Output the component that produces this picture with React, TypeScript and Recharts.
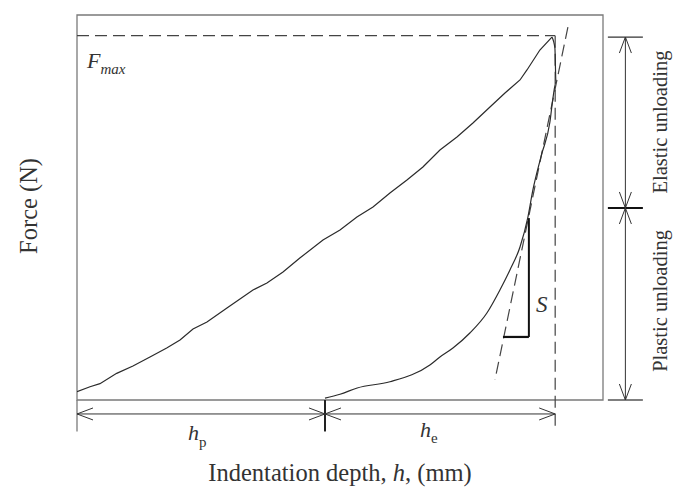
import React from 'react';
import { ComposedChart, Line, XAxis, YAxis, ReferenceLine, ReferenceArea, ReferenceDot } from 'recharts';

// ---- data (depth h in mm, force F in N, arbitrary units as in the schematic) ----
const loadingH = [0, 0.136, 0.24, 0.415, 0.585, 0.763, 0.938, 1.077, 1.213, 1.359, 1.568, 1.84, 1.986, 2.154, 2.33, 2.572, 2.75, 2.927, 3.095, 3.272, 3.45, 3.617, 3.795, 3.973, 4.14, 4.318, 4.475, 4.632, 4.705, 4.84, 4.966];
const loadingF = [0.086, 0.138, 0.17, 0.277, 0.353, 0.447, 0.54, 0.623, 0.738, 0.81, 0.956, 1.143, 1.216, 1.33, 1.475, 1.662, 1.766, 1.901, 2.005, 2.151, 2.286, 2.421, 2.597, 2.732, 2.878, 3.044, 3.19, 3.325, 3.429, 3.636, 3.771];
const unloadingH = [4.966, 4.997, 5.008, 4.977, 4.945, 4.856, 4.767, 4.715, 4.632, 4.527, 4.422, 4.286, 4.108, 3.931, 3.795, 3.69, 3.272, 2.93, 2.75, 2.593];
const unloadingF = [3.771, 3.657, 3.304, 3.138, 2.888, 2.545, 2.182, 1.901, 1.59, 1.351, 1.143, 0.904, 0.696, 0.54, 0.447, 0.364, 0.19, 0.125, 0.06, 0.02];
const tangentH = [5.133, 4.37];
const tangentF = [3.875, 0.208];
const xTicks = [0, 1, 2, 3, 4, 5];
const yTicks = [0, 1, 2, 3];
const hMax = 5.0;
const fMax = 3.785;
const hP = 2.593;
const elasticSplit = 1.995;
const slopeRun = [4.454, 4.725];
const slopeRise = [0.655, 1.89];

// annotation anchors (data space)
const dimY = -0.145;
const extBottom = -0.327;
const sideX = 5.734;
const sideTick = [5.551, 5.917];

const loadingData = loadingH.map((h, i) => ({ h, f: loadingF[i] }));
const unloadingData = unloadingH.map((h, i) => ({ h, f: unloadingF[i] }));
const tangentData = tangentH.map((h, i) => ({ h, f: tangentF[i] }));

const INK = '#2b2b2b';
const FRAME = '#7a7a7a';
const FONT = '"Liberation Serif", "Times New Roman", serif';

const arrowShape = (color: string, width: number) => (p: any) => {
  const { x1, y1, x2, y2 } = p;
  const L = 16;
  const W = 6;
  const head = (tx: number, ty: number, ox: number, oy: number, k: string) => {
    const dx = ox - tx;
    const dy = oy - ty;
    const len = Math.sqrt(dx * dx + dy * dy) || 1;
    const ux = dx / len;
    const uy = dy / len;
    const bx = tx + ux * L;
    const by = ty + uy * L;
    return (
      <g key={k}>
        <line x1={tx} y1={ty} x2={bx - uy * W} y2={by + ux * W} stroke={color} strokeWidth={1} />
        <line x1={tx} y1={ty} x2={bx + uy * W} y2={by - ux * W} stroke={color} strokeWidth={1} />
      </g>
    );
  };
  return (
    <g>
      <line x1={x1} y1={y1} x2={x2} y2={y2} stroke={color} strokeWidth={width} />
      {head(x1, y1, x2, y2, 'a')}
      {head(x2, y2, x1, y1, 'b')}
    </g>
  );
};

const textShape = (node: (cx: number, cy: number) => React.ReactElement) => (p: any) => node(p.cx, p.cy);

export default function App() {
  return (
    <div style={{ position: 'absolute', left: 0, top: 0, width: 680, height: 487, background: '#fff' }}>
      <ComposedChart
        width={680}
        height={487}
        margin={{ top: 15, right: 77, bottom: 87, left: 77 }}
        style={{ fontFamily: FONT }}
      >
        <XAxis
          type="number"
          dataKey="h"
          domain={[0, 5.5]}
          ticks={xTicks}
          tick={false}
          tickSize={5}
          height={0}
          axisLine={{ stroke: FRAME, strokeWidth: 1.3 }}
          tickLine={{ stroke: FRAME, strokeWidth: 1.3 }}
          allowDataOverflow
        />
        <YAxis
          type="number"
          dataKey="f"
          domain={[0, 4]}
          ticks={yTicks}
          tick={false}
          tickSize={5}
          width={0}
          axisLine={{ stroke: FRAME, strokeWidth: 1.3 }}
          tickLine={{ stroke: FRAME, strokeWidth: 1.3 }}
          allowDataOverflow
        />
        <ReferenceArea x1={0} x2={5.5} y1={0} y2={4} fill="none" stroke={FRAME} strokeWidth={1.3} ifOverflow="visible" />

        {/* Fmax and hmax guides */}
        <ReferenceLine segment={[{ x: 0, y: fMax }, { x: hMax, y: fMax }]} stroke="#444" strokeWidth={1.2} strokeDasharray="12 6" ifOverflow="visible" />
        <ReferenceLine segment={[{ x: hMax, y: fMax }, { x: hMax, y: extBottom }]} stroke="#444" strokeWidth={1.2} strokeDasharray="12 6" ifOverflow="visible" />

        {/* tangent (stiffness S) */}
        <Line data={tangentData} dataKey="f" type="linear" stroke="#444" strokeWidth={1.2} strokeDasharray="12 6" dot={false} isAnimationActive={false} />

        <Line data={loadingData} dataKey="f" type="linear" stroke={INK} strokeWidth={1.2} dot={false} isAnimationActive={false} />
        <Line data={unloadingData} dataKey="f" type="monotone" stroke={INK} strokeWidth={1.2} dot={false} isAnimationActive={false} />

        {/* slope triangle */}
        <ReferenceLine segment={[{ x: slopeRun[1], y: slopeRise[0] }, { x: slopeRun[1], y: slopeRise[1] }]} stroke="#111" strokeWidth={2} ifOverflow="visible" />
        <ReferenceLine segment={[{ x: slopeRun[0], y: slopeRise[0] }, { x: slopeRun[1], y: slopeRise[0] }]} stroke="#111" strokeWidth={2.2} ifOverflow="visible" />

        {/* bottom extension lines */}
        <ReferenceLine segment={[{ x: 0, y: 0 }, { x: 0, y: extBottom }]} stroke={FRAME} strokeWidth={1.3} ifOverflow="visible" />
        <ReferenceLine segment={[{ x: hP, y: 0 }, { x: hP, y: extBottom }]} stroke="#222" strokeWidth={2} ifOverflow="visible" />

        {/* bottom dimension arrows */}
        <ReferenceLine segment={[{ x: 0, y: dimY }, { x: hP, y: dimY }]} ifOverflow="visible" shape={arrowShape('#333', 1)} />
        <ReferenceLine segment={[{ x: hP, y: dimY }, { x: hMax, y: dimY }]} ifOverflow="visible" shape={arrowShape('#333', 1)} />

        {/* right side dimension */}
        <ReferenceLine segment={[{ x: sideTick[0], y: fMax - 0.014 }, { x: sideTick[1], y: fMax - 0.014 }]} stroke="#333" strokeWidth={1.3} ifOverflow="visible" />
        <ReferenceLine segment={[{ x: sideTick[0], y: elasticSplit }, { x: sideTick[1], y: elasticSplit }]} stroke="#111" strokeWidth={2} ifOverflow="visible" />
        <ReferenceLine segment={[{ x: sideTick[0], y: 0 }, { x: sideTick[1], y: 0 }]} stroke="#555" strokeWidth={1.3} ifOverflow="visible" />
        <ReferenceLine segment={[{ x: sideX, y: fMax - 0.014 }, { x: sideX, y: elasticSplit }]} ifOverflow="visible" shape={arrowShape('#333', 1)} />
        <ReferenceLine segment={[{ x: sideX, y: elasticSplit }, { x: sideX, y: 0 }]} ifOverflow="visible" shape={arrowShape('#333', 1)} />

        {/* labels */}
        <ReferenceDot x={0.105} y={3.45} r={0} ifOverflow="visible" shape={textShape((cx, cy) => (
          <text x={cx} y={cy} fill="#333" fontFamily={FONT} fontStyle="italic" fontSize={22}>
            F<tspan fontSize={15} dy={6}>max</tspan>
          </text>
        ))} />
        <ReferenceDot x={4.799} y={0.914} r={0} ifOverflow="visible" shape={textShape((cx, cy) => (
          <text x={cx} y={cy} fill="#333" fontFamily={FONT} fontStyle="italic" fontSize={23}>S</text>
        ))} />
        <ReferenceDot x={1.16} y={-0.416} r={0} ifOverflow="visible" shape={textShape((cx, cy) => (
          <text x={cx} y={cy} fill="#333" fontFamily={FONT} fontSize={22}>
            <tspan fontStyle="italic">h</tspan><tspan fontSize={15} dy={7}>p</tspan>
          </text>
        ))} />
        <ReferenceDot x={3.586} y={-0.384} r={0} ifOverflow="visible" shape={textShape((cx, cy) => (
          <text x={cx} y={cy} fill="#333" fontFamily={FONT} fontSize={22}>
            <tspan fontStyle="italic">h</tspan><tspan fontSize={15} dy={6}>e</tspan>
          </text>
        ))} />
        <ReferenceDot x={6.168} y={2.888} r={0} ifOverflow="visible" shape={textShape((cx, cy) => (
          <text x={cx} y={cy} fill="#333" fontFamily={FONT} fontSize={20.5} textAnchor="middle" transform={`rotate(-90 ${cx} ${cy})`}>Elastic unloading</text>
        ))} />
        <ReferenceDot x={6.168} y={1.029} r={0} ifOverflow="visible" shape={textShape((cx, cy) => (
          <text x={cx} y={cy} fill="#333" fontFamily={FONT} fontSize={20.5} textAnchor="middle" transform={`rotate(-90 ${cx} ${cy})`}>Plastic unloading</text>
        ))} />
        <ReferenceDot x={-0.418} y={2.016} r={0} ifOverflow="visible" shape={textShape((cx, cy) => (
          <text x={cx} y={cy} fill="#333" fontFamily={FONT} fontSize={24.5} textAnchor="middle" transform={`rotate(-90 ${cx} ${cy})`}>Force (N)</text>
        ))} />
        <ReferenceDot x={2.75} y={-0.842} r={0} ifOverflow="visible" shape={textShape((cx, cy) => (
          <text x={cx} y={cy} fill="#333" fontFamily={FONT} fontSize={24.5} textAnchor="middle">
            Indentation depth, <tspan fontStyle="italic">h</tspan>, (mm)
          </text>
        ))} />
      </ComposedChart>
    </div>
  );
}
